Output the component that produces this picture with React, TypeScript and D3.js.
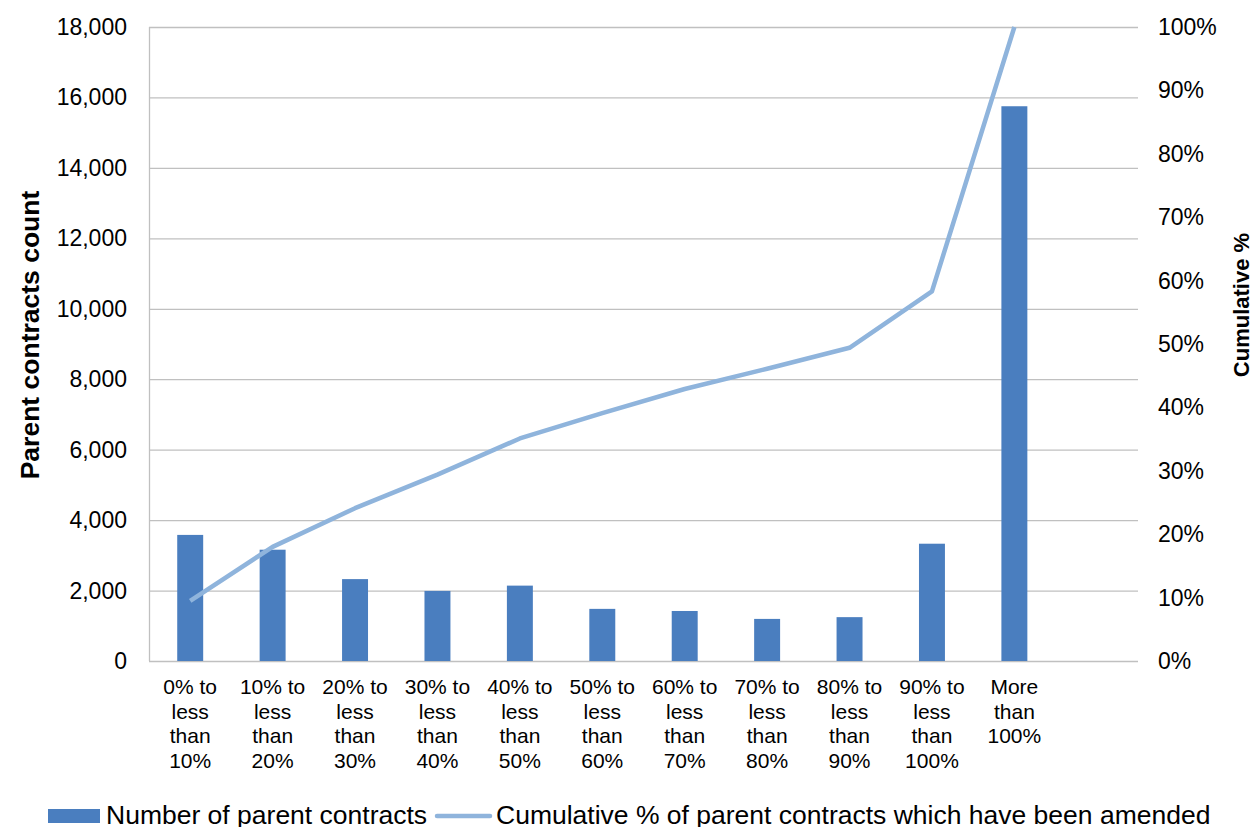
import React from "react";
import * as d3 from "d3";

const categories: string[][] = [
  ["0% to", "less", "than", "10%"],
  ["10% to", "less", "than", "20%"],
  ["20% to", "less", "than", "30%"],
  ["30% to", "less", "than", "40%"],
  ["40% to", "less", "than", "50%"],
  ["50% to", "less", "than", "60%"],
  ["60% to", "less", "than", "70%"],
  ["70% to", "less", "than", "80%"],
  ["80% to", "less", "than", "90%"],
  ["90% to", "less", "than", "100%"],
  ["More", "than", "100%"],
  [],
];
const contractCounts: number[] = [3580, 3160, 2325, 1990, 2140, 1480, 1420, 1195, 1245, 3330, 15750];
const cumulativePct: number[] = [9.5, 18.0, 24.1, 29.4, 35.1, 39.1, 42.9, 46.1, 49.4, 58.3, 100];
const leftTicks: number[] = [0, 2000, 4000, 6000, 8000, 10000, 12000, 14000, 16000, 18000];
const rightTicks: number[] = [0, 10, 20, 30, 40, 50, 60, 70, 80, 90, 100];
const legendLabels: string[] = ["Number of parent contracts", "Cumulative % of parent contracts which have been amended"];

const W = 1255;
const H = 827;
const plot = { left: 149, right: 1138, top: 27, bottom: 661 };
const BAR = "#4a7ebf";
const LINE = "#8fb4dc";
const GRID = "#c0c0c0";
const FONT = "'Liberation Sans', Arial, sans-serif";

export default function App() {
  const keys = categories.map((_, i) => String(i));
  const x = d3.scaleBand<string>().domain(keys).range([plot.left, plot.right]).paddingInner(0.685).paddingOuter(0.3425);
  const yL = d3.scaleLinear().domain([0, 18000]).range([plot.bottom, plot.top]);
  const yR = d3.scaleLinear().domain([0, 100]).range([plot.bottom, plot.top]);
  const fmt = d3.format(",");
  const cx = (i: number) => (x(String(i)) as number) + x.bandwidth() / 2;
  const line = d3
    .line<number>()
    .x((_, i) => cx(i))
    .y((d) => yR(d));

  return (
    <svg width={W} height={H} style={{ position: "absolute", left: 0, top: 0, background: "#fff" }} fontFamily={FONT}>
      <rect x={0} y={0} width={W} height={H} fill="#fff" />
      {leftTicks.map((t) => (
        <line key={"g" + t} x1={plot.left} x2={plot.right} y1={yL(t) + 0.5} y2={yL(t) + 0.5} stroke={GRID} strokeWidth={1.3} />
      ))}
      <line x1={plot.left + 0.5} x2={plot.left + 0.5} y1={plot.top} y2={plot.bottom} stroke={GRID} strokeWidth={1.3} />
      {leftTicks.map((t) => (
        <text key={"l" + t} x={127} y={yL(t)} dy="0.35em" textAnchor="end" fontSize={23} fill="#000">
          {fmt(t)}
        </text>
      ))}
      {rightTicks.map((t) => (
        <text key={"r" + t} x={1158} y={yR(t)} dy="0.35em" textAnchor="start" fontSize={23} fill="#000">
          {t + "%"}
        </text>
      ))}
      {contractCounts.map((v, i) => (
        <rect key={"b" + i} x={x(String(i))} y={yL(v)} width={x.bandwidth()} height={plot.bottom - yL(v)} fill={BAR} />
      ))}
      <path d={line(cumulativePct) || ""} fill="none" stroke={LINE} strokeWidth={4.5} strokeLinejoin="round" />
      {categories.map((lines, i) => (
        <text key={"c" + i} x={cx(i)} y={687} textAnchor="middle" fontSize={21} fill="#000">
          {lines.map((s, j) => (
            <tspan key={j} x={cx(i)} y={687 + j * 24.4} dy="0.35em">
              {s}
            </tspan>
          ))}
        </text>
      ))}
      <text transform={`translate(30,335) rotate(-90)`} textAnchor="middle" dy="0.35em" fontSize={26.5} fontWeight="bold" fill="#000">
        Parent contracts count
      </text>
      <text transform={`translate(1241,305) rotate(-90)`} textAnchor="middle" dy="0.35em" fontSize={22} fontWeight="bold" fill="#000">
        Cumulative %
      </text>
      <rect x={48} y={809} width={52} height={14} fill={BAR} />
      <text x={106} y={824} fontSize={26.5} fill="#000">
        {legendLabels[0]}
      </text>
      <line x1={437} x2={490} y1={816} y2={816} stroke={LINE} strokeWidth={4.5} strokeLinecap="round" />
      <text x={496} y={824} fontSize={26.5} fill="#000">
        {legendLabels[1]}
      </text>
    </svg>
  );
}
